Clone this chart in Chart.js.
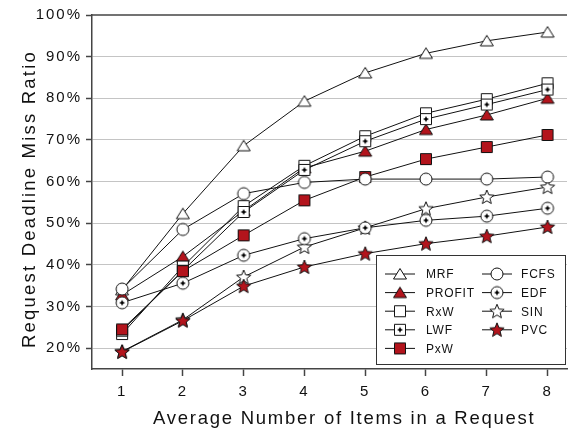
<!DOCTYPE html>
<html>
<head>
<meta charset="utf-8">
<script src="https://cdn.jsdelivr.net/npm/chart.js@4.4.1/dist/chart.umd.min.js"></script>
<style>
  body { margin: 0; background: #fff; }
  #wrap { width: 574px; height: 430px; position: relative; }
</style>
</head>
<body>
<div id="wrap"><canvas id="chart"></canvas></div>
<script>
// data (percent)
const items = [1, 2, 3, 4, 5, 6, 7, 8];
const yTicks = [20, 30, 40, 50, 60, 70, 80, 90, 100];
const mrf    = [34.0, 52.3, 68.6, 79.3, 86.1, 90.8, 93.8, 95.9];
const profit = [32.8, 42.0, 53.0, 63.3, 67.3, 72.5, 76.0, 80.0];
const rxw    = [23.4, 39.6, 54.1, 63.8, 70.9, 76.4, 79.8, 83.6];
const lwf    = [24.2, 38.6, 52.7, 62.8, 69.7, 75.0, 78.5, 82.1];
const pxw    = [24.5, 38.5, 47.1, 55.5, 61.1, 65.4, 68.3, 71.2];
const fcfs   = [34.2, 48.5, 57.1, 59.8, 60.6, 60.6, 60.6, 61.1];
const edf    = [30.9, 35.6, 42.3, 46.3, 48.9, 50.7, 51.7, 53.6];
const sin    = [19.2, 26.8, 37.1, 44.3, 48.9, 53.5, 56.3, 58.7];
const pvc    = [19.1, 26.6, 34.9, 39.5, 42.7, 45.1, 46.9, 49.1];

const RED = "#b3141c";
const FONT = "'Liberation Sans', Arial, sans-serif";

// little canvases used as point styles
function marker(shape, fill, dot) {
  const c = document.createElement("canvas");
  c.width = 18; c.height = 18;
  const g = c.getContext("2d");
  g.fillStyle = fill;
  g.strokeStyle = "#111";
  g.lineWidth = 1;
  g.beginPath();
  if (shape === "tri") {
    g.moveTo(9, 3.5); g.lineTo(15.5, 14); g.lineTo(2.5, 14); g.closePath();
  } else if (shape === "rect") {
    g.rect(3.5, 3.5, 11, 11);
  } else if (shape === "circle") {
    g.arc(9, 9, 6, 0, Math.PI * 2);
  } else if (shape === "star") {
    for (let i = 0; i < 10; i++) {
      const r = i % 2 ? 3.3 : 7.5;
      const a = -Math.PI / 2 + i * Math.PI / 5;
      const px = 9 + r * Math.cos(a), py = 9.5 + r * Math.sin(a);
      i ? g.lineTo(px, py) : g.moveTo(px, py);
    }
    g.closePath();
  }
  g.fill();
  g.stroke();
  if (dot) {
    g.fillStyle = "#000";
    g.fillRect(7.5, 8, 3, 2);
    g.fillRect(8, 7.5, 2, 3);
    g.fillRect(8.5, 6.5, 1, 5);
    g.fillRect(6.5, 8.5, 5, 1);
  }
  return c;
}

const series = [
  { label: "MRF",    data: mrf,    style: marker("tri", "#fff"),          order: 9 },
  { label: "PROFIT", data: profit, style: marker("tri", RED),             order: 8 },
  { label: "RxW",    data: rxw,    style: marker("rect", "#fff"),         order: 7 },
  { label: "LWF",    data: lwf,    style: marker("rect", "#fff", true),   order: 6 },
  { label: "PxW",    data: pxw,    style: marker("rect", RED),            order: 3 },
  { label: "FCFS",   data: fcfs,   style: marker("circle", "#fff"),       order: 1 },
  { label: "EDF",    data: edf,    style: marker("circle", "#fff", true), order: 2 },
  { label: "SIN",    data: sin,    style: marker("star", "#fff"),         order: 5 },
  { label: "PVC",    data: pvc,    style: marker("star", RED),            order: 4 }
];

const frameAndText = {
  id: "frameAndText",
  beforeDraw(chart) {
    chart.ctx.letterSpacing = "2px";
  },
  afterDraw(chart) {
    const { ctx, chartArea: a } = chart;
    ctx.save();
    // top border
    ctx.strokeStyle = "#444";
    ctx.lineWidth = 1.5;
    ctx.beginPath();
    ctx.moveTo(a.left, a.top);
    ctx.lineTo(a.right, a.top);
    ctx.stroke();

    // axis titles
    ctx.fillStyle = "#111";
    ctx.font = "18.5px " + FONT;
    ctx.textAlign = "left";
    ctx.textBaseline = "alphabetic";
    ctx.letterSpacing = "1.75px";
    ctx.fillText("Average Number of Items in a Request", 153, 423.5);
    ctx.save();
    ctx.translate(35, 348);
    ctx.rotate(-Math.PI / 2);
    ctx.letterSpacing = "2.2px";
    ctx.fillText("Request Deadline Miss Ratio", 0, 0);
    ctx.restore();

    // legend box
    const bx = 376, by = 255, bw = 189, bh = 109;
    ctx.fillStyle = "#fff";
    ctx.fillRect(bx, by, bw, bh);
    ctx.strokeStyle = "#333";
    ctx.lineWidth = 1;
    ctx.strokeRect(bx + 0.5, by + 0.5, bw, bh);
    ctx.font = "12px " + FONT;
    ctx.letterSpacing = "0.8px";
    ctx.textBaseline = "middle";
    ctx.fillStyle = "#111";
    series.forEach((s, i) => {
      const col = i < 5 ? 0 : 1;
      const row = i < 5 ? i : i - 5;
      const cx = col ? 497 : 400;
      const cy = 274 + row * 18.6;
      ctx.strokeStyle = "#111";
      ctx.beginPath();
      ctx.moveTo(cx - 15, cy);
      ctx.lineTo(cx + 15, cy);
      ctx.stroke();
      ctx.drawImage(s.style, cx - 9, cy - 9);
      ctx.fillText(s.label, col ? 521 : 426, cy + 1);
    });
    ctx.restore();
  }
};

new Chart(document.getElementById("chart"), {
  type: "line",
  data: {
    datasets: series.map(s => ({
      label: s.label,
      data: items.map((x, i) => ({ x: x, y: s.data[i] })),
      borderColor: "#111",
      borderWidth: 1,
      pointStyle: s.style,
      pointRadius: 6,
      pointHoverRadius: 6,
      fill: false,
      tension: 0,
      order: s.order
    }))
  },
  options: {
    responsive: true,
    maintainAspectRatio: false,
    animation: false,
    events: [],
    layout: { padding: { top: 15, right: 0, left: 0, bottom: 0 } },
    plugins: {
      legend: { display: false },
      tooltip: { enabled: false }
    },
    scales: {
      x: {
        type: "linear",
        min: 0.505,
        max: 8.32,
        afterBuildTicks: sc => { sc.ticks = items.map(v => ({ value: v })); },
        afterFit: sc => { sc.height = 61; },
        border: { color: "#444", width: 1.5 },
        grid: { drawOnChartArea: false, drawTicks: true, tickLength: 7, tickColor: "#444", tickWidth: 1.5 },
        ticks: { color: "#111", padding: 7, font: { family: FONT, size: 15 } }
      },
      y: {
        min: 15,
        max: 100,
        afterBuildTicks: sc => { sc.ticks = yTicks.map(v => ({ value: v })); },
        afterFit: sc => { sc.width = 92; },
        border: { color: "#444", width: 1.5 },
        grid: {
          color: c => (c.tick && c.tick.value === 100 ? "rgba(0,0,0,0)" : "#c4c4c4"),
          lineWidth: 1,
          borderDash: [2, 3],
          tickBorderDash: [],
          tickLength: 6,
          tickColor: "#444",
          tickWidth: 1.5
        },
        ticks: { color: "#111", padding: 4, font: { family: FONT, size: 15 }, callback: v => v + "%" }
      }
    }
  },
  plugins: [frameAndText]
});
</script>
</body>
</html>
